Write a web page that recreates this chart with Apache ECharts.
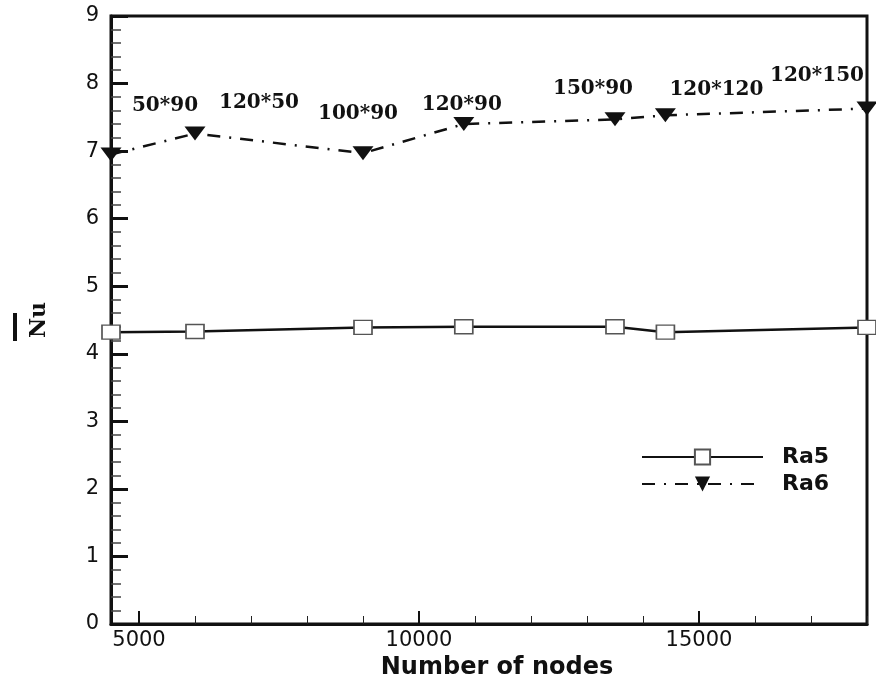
<!DOCTYPE html>
<html>
<head>
<meta charset="utf-8">
<script src="https://cdn.jsdelivr.net/npm/echarts@6/dist/echarts.min.js"></script>
<style>
html,body{margin:0;padding:0;background:#fff;}
#chart{width:876px;height:677px;}
</style>
</head>
<body>
<div id="chart"></div>
<script>
// ---- data ----
const nodes = [4500, 6000, 9000, 10800, 13500, 14400, 18000];
const ra5 = [4.32, 4.33, 4.39, 4.40, 4.40, 4.32, 4.39];
const ra6 = [6.95, 7.26, 6.97, 7.40, 7.47, 7.53, 7.63];
const meshLabels = ['50*90', '120*50', '100*90', '120*90', '150*90', '120*120', '120*150'];
const xMajorTicks = [5000, 10000, 15000];
const xMinorTicks = [6000, 7000, 8000, 9000, 11000, 12000, 13000, 14000, 16000, 17000, 18000];
const seriesNames = ['Ra5', 'Ra6'];

// ---- styling (label placement offsets in pixels) ----
const labelOffsets = [[54, -49], [64, -31], [-5, -39], [-2, -19], [-22, -31], [51, -26], [-50, -33]];

const chart = echarts.init(document.getElementById('chart'), null, {renderer: 'canvas'});

const ra5Data = nodes.map((n, i) => [n, ra5[i]]);
const ra6Data = nodes.map((n, i) => ({
  value: [n, ra6[i]],
  label: {
    show: true,
    formatter: meshLabels[i],
    position: 'inside',
    offset: labelOffsets[i],
    fontFamily: 'DejaVu Serif',
    fontWeight: 'bold',
    fontSize: 20,
    color: '#111'
  }
}));

const option = {
  backgroundColor: '#fff',
  animation: false,
  grid: {
    left: 111, right: 9, top: 16, bottom: 53,
    outerBoundsMode: 'none', containLabel: false,
    show: true, borderColor: '#111', borderWidth: 3, backgroundColor: 'transparent'
  },
  legend: {
    orient: 'vertical',
    left: 641, top: 446, padding: 0,
    itemWidth: 121, itemHeight: 19, itemGap: 5,
    textStyle: {fontFamily: 'DejaVu Sans', fontWeight: 'bold', fontSize: 22, color: '#111', padding: [0, 0, 0, 14]},
    data: seriesNames
  },
  xAxis: [{
    type: 'value', min: 4500, max: 18000,
    name: 'Number of nodes', nameLocation: 'middle', nameGap: 23,
    nameTextStyle: {fontFamily: 'DejaVu Sans', fontWeight: 'bold', fontSize: 24, color: '#111', padding: [0, 0, 0, 16]},
    axisLine: {show: true, lineStyle: {color: '#111', width: 3}},
    axisTick: {show: true, inside: true, length: 13, customValues: xMajorTicks, lineStyle: {color: '#111', width: 2}},
    axisLabel: {show: true, customValues: xMajorTicks, margin: 6, fontFamily: 'DejaVu Sans', fontSize: 21, color: '#111',
      formatter: v => String(v)},
    splitLine: {show: false}
  }, {
    type: 'value', min: 4500, max: 18000, position: 'bottom',
    axisLine: {show: false},
    axisTick: {show: true, inside: true, length: 8, customValues: xMinorTicks, lineStyle: {color: '#222', width: 1}},
    axisLabel: {show: false},
    splitLine: {show: false}
  }],
  yAxis: {
    type: 'value', min: 0, max: 9, interval: 1,
    name: 'Nu', nameLocation: 'middle', nameGap: 61, nameRotate: 90,
    nameTextStyle: {fontFamily: 'DejaVu Serif', fontWeight: 'bold', fontSize: 22, color: '#111'},
    axisLine: {show: true, lineStyle: {color: '#111', width: 3}},
    axisTick: {show: true, inside: true, length: 17, lineStyle: {color: '#111', width: 3}},
    minorTick: {show: true, splitNumber: 5, length: 10, lineStyle: {color: '#444', width: 1.5}},
    axisLabel: {margin: 12, fontFamily: 'DejaVu Sans', fontSize: 21, color: '#111'},
    splitLine: {show: false}
  },
  graphic: [{
    type: 'rect', left: 13, top: 313,
    shape: {width: 4, height: 28},
    style: {fill: '#111'}
  }],
  series: [{
    name: seriesNames[0], type: 'line', xAxisIndex: 0,
    data: ra5Data,
    symbol: 'rect', symbolSize: [18, 14],
    itemStyle: {color: '#fff', borderColor: '#555', borderWidth: 1.5},
    lineStyle: {color: '#111', width: 2.5, type: 'solid'},
    z: 3
  }, {
    name: seriesNames[1], type: 'line', xAxisIndex: 0,
    data: ra6Data,
    symbol: 'path://M0,0L20,0L10,13Z', symbolSize: [21, 14],
    itemStyle: {color: '#111'},
    lineStyle: {color: '#111', width: 2.5, type: [13, 9, 2, 9]},
    z: 3
  }]
};
chart.setOption(option);
</script>
</body>
</html>
